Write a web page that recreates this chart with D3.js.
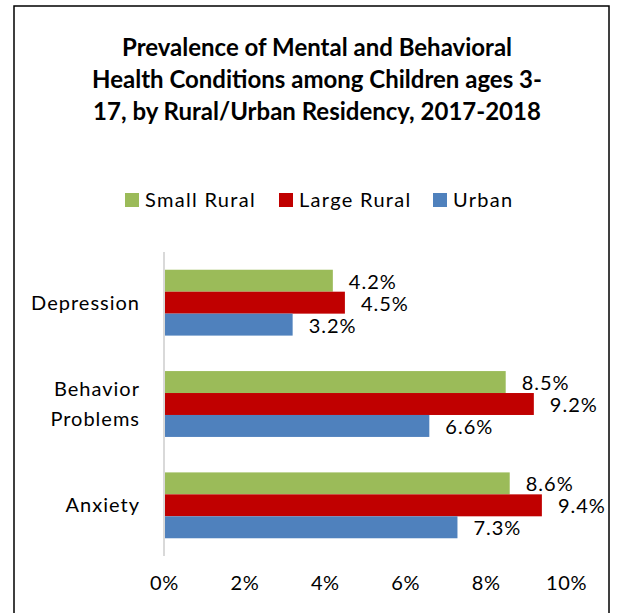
<!DOCTYPE html>
<html>
<head>
<meta charset="utf-8">
<script src="https://cdn.jsdelivr.net/npm/d3@7"></script>
<style>
  body { margin: 0; background: #fff; }
  svg text { font-family: Lato, "Open Sans", sans-serif; fill: #000; }
</style>
</head>
<body>
<svg id="chart"></svg>
<script>

// Values (percent)
var categories = ["Depression", "Behavior Problems", "Anxiety"];
var seriesNames = ["Small Rural", "Large Rural", "Urban"];
var smallRural = [4.2, 8.5, 8.6];
var largeRural = [4.5, 9.2, 9.4];
var urban = [3.2, 6.6, 7.3];
var xTicks = [0, 2, 4, 6, 8, 10];
var titleLines = ["Prevalence of Mental and Behavioral",
                  "Health Conditions among Children ages 3-",
                  "17, by Rural/Urban Residency, 2017-2018"];

var colors = ["#9bbb59", "#c00000", "#4f81bd"];
var seriesValues = [smallRural, largeRural, urban];

var width = 619, height = 613;

var svg = d3.select("#chart")
    .attr("width", width)
    .attr("height", height);

// chart border
svg.append("rect")
    .attr("x", 14).attr("y", 6)
    .attr("width", 595).attr("height", 620)
    .attr("fill", "none")
    .attr("stroke", "#000")
    .attr("stroke-width", 1.5);

// title
svg.append("g").selectAll("text")
    .data(titleLines)
    .enter().append("text")
    .attr("x", 317)
    .attr("y", function (d, i) { return 56 + i * 32; })
    .attr("text-anchor", "middle")
    .attr("font-size", 24)
    .attr("font-weight", "bold")
    .text(function (d) { return d; });

// scales
var x = d3.scaleLinear()
    .domain([0, 10])
    .range([164, 566]);

var y = d3.scaleBand()
    .domain(categories)
    .range([252, 556])
    .paddingInner(0.35)
    .paddingOuter(0.175);

var ySub = d3.scaleBand()
    .domain(seriesNames)
    .range([0, y.bandwidth()]);

// legend
var legendX = [125, 279, 433];
var legend = svg.append("g").selectAll("g")
    .data(seriesNames)
    .enter().append("g")
    .attr("transform", function (d, i) { return "translate(" + legendX[i] + ",193)"; });

legend.append("rect")
    .attr("width", 14).attr("height", 14)
    .attr("fill", function (d, i) { return colors[i]; });

legend.append("text")
    .attr("x", 20).attr("y", 14)
    .attr("font-size", 20)
    .attr("letter-spacing", 1.3)
    .text(function (d) { return d; });

// bars
var groups = svg.append("g").selectAll("g")
    .data(categories)
    .enter().append("g")
    .attr("transform", function (d) { return "translate(0," + y(d) + ")"; });

groups.selectAll("rect")
    .data(function (d, ci) {
        return seriesNames.map(function (s, si) { return { s: s, si: si, v: seriesValues[si][ci] }; });
    })
    .enter().append("rect")
    .attr("x", x(0))
    .attr("y", function (d) { return ySub(d.s); })
    .attr("width", function (d) { return x(d.v) - x(0); })
    .attr("height", ySub.bandwidth())
    .attr("fill", function (d) { return colors[d.si]; });

groups.selectAll("text")
    .data(function (d, ci) {
        return seriesNames.map(function (s, si) { return { s: s, si: si, v: seriesValues[si][ci] }; });
    })
    .enter().append("text")
    .attr("x", function (d) { return x(d.v) + 16; })
    .attr("y", function (d) { return ySub(d.s) + ySub.bandwidth() / 2 + 8; })
    .attr("font-size", 20)
    .attr("letter-spacing", 1)
    .text(function (d) { return d.v.toFixed(1) + "%"; });

// category labels
var catLabels = svg.append("g").selectAll("text")
    .data(categories)
    .enter().append("text")
    .attr("text-anchor", "end")
    .attr("font-size", 20)
    .attr("letter-spacing", 1)
    .attr("transform", function (d) { return "translate(140," + (y(d) + y.bandwidth() / 2) + ")"; });

catLabels.each(function (d) {
    var words = d.split(" ");
    var t = d3.select(this);
    words.forEach(function (w, i) {
        t.append("tspan")
            .attr("x", 0)
            .attr("y", (i - (words.length - 1) / 2) * 30 + 7)
            .text(w);
    });
});

// value axis
var xAxis = d3.axisBottom(x)
    .tickValues(xTicks)
    .tickSize(0)
    .tickPadding(0)
    .tickFormat(function (d) { return d + "%"; });

var axisG = svg.append("g")
    .attr("transform", "translate(0,590)")
    .call(xAxis);
axisG.select(".domain").remove();
axisG.selectAll("text")
    .attr("font-size", 20)
    .attr("letter-spacing", 0.6)
    .attr("fill", "#000")
    .attr("dy", 0)
    .style("font-family", "Lato");

// category axis line
svg.append("line")
    .attr("x1", x(0)).attr("x2", x(0))
    .attr("y1", 252).attr("y2", 556)
    .attr("stroke", "#d9d9d9")
    .attr("stroke-width", 2);

</script>
</body>
</html>
